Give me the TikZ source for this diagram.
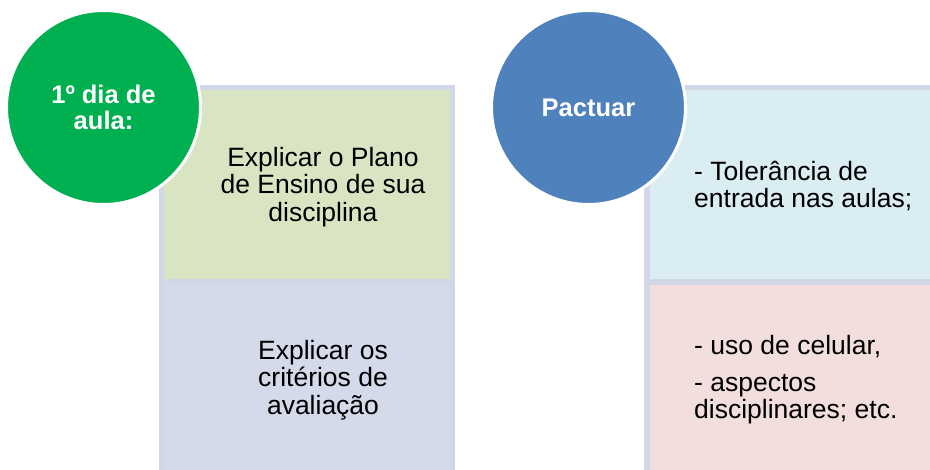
\documentclass[tikz,border=0pt]{standalone}
\usepackage{fontspec}
\setmainfont{Liberation Sans}
\definecolor{verde}{HTML}{00B050}
\definecolor{azul}{HTML}{4F81BD}
\definecolor{moldura}{HTML}{D1D7E6}
\definecolor{verdeclaro}{HTML}{D9E5C2}
\definecolor{lilas}{HTML}{D5DAEA}
\definecolor{azulclaro}{HTML}{DAEDF3}
\definecolor{rosa}{HTML}{F2DEDD}

\begin{document}
\begin{tikzpicture}[x=1pt,y=-1pt,
  circulo/.style={circle,draw=white,line width=3pt,minimum size=194pt,inner sep=0pt,
    text=white,align=center,font=\fontsize{25.5}{26}\selectfont\bfseries},
  texto/.style={inner sep=0pt,font=\fontsize{26.5}{27.5}\selectfont}]
\useasboundingbox (0,0) rectangle (930,470);
%Moldura esquerda
\fill[moldura] (159,85) rectangle (455,470);
\fill[verdeclaro] (164,90) rectangle (450,279);
\fill[lilas] (164,283) rectangle (450,470);
%Moldura direita
\fill[moldura] (644,85) rectangle (930,470);
\fill[azulclaro] (650,90) rectangle (930,279);
\fill[rosa] (650,285) rectangle (930,470);
%Textos dos quadros
\node[texto,align=center] (plano) at (323,187) {Explicar o Plano\\de Ensino de sua\\disciplina};
\node[texto,align=center] (criterios) at (323,380) {Explicar os\\critérios de\\avaliação};
\node[texto,align=left,anchor=west] (tolerancia) at (694,186) {- Tolerância de\\entrada nas aulas;};
\node[texto,align=left,anchor=west] (celular) at (694,380) {- uso de celular,\\[9pt]- aspectos\\disciplinares; etc.};
%Circulos
\node[circulo,fill=verde] (dia) at (103.5,107.5) {1º dia de\\aula:};
\node[circulo,fill=azul] (pactuar) at (588.5,107.5) {Pactuar};
\end{tikzpicture}
\end{document}
